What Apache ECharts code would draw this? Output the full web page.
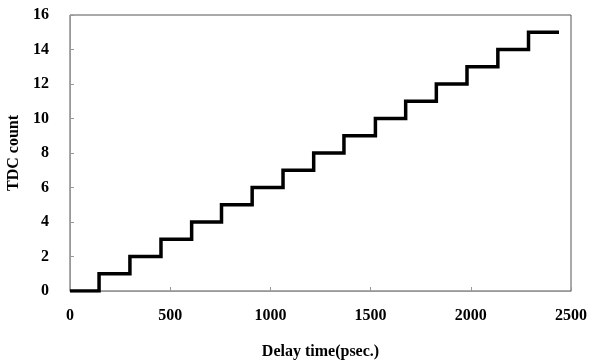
<!DOCTYPE html>
<html>
<head>
<meta charset="utf-8">
<script src="https://cdn.jsdelivr.net/npm/echarts@6/dist/echarts.min.js"></script>
<style>
  html, body { margin: 0; padding: 0; background: #fff; }
  #chart { width: 589px; height: 361px; }
</style>
</head>
<body>
<div id="chart"></div>
<script>
// delay time (psec.) where the count steps up, and the count after each step
var delayTimes = [0, 145, 299, 454, 607, 756, 909, 1063, 1216, 1367, 1524, 1675, 1828, 1981, 2135, 2288, 2440];
var tdcCounts  = [0, 1, 2, 3, 4, 5, 6, 7, 8, 9, 10, 11, 12, 13, 14, 15, 15];

var xTicks = [0, 500, 1000, 1500, 2000, 2500];
var yTicks = [0, 2, 4, 6, 8, 10, 12, 14, 16];

var labelFont = {
    fontFamily: 'Liberation Serif',
    fontWeight: 'bold',
    fontSize: 16,
    color: '#000'
};

var myChart = echarts.init(document.getElementById('chart'));

var points = [];
for (var i = 0; i < delayTimes.length; i++) {
    points.push([delayTimes[i], tdcCounts[i]]);
}

var option = {
    animation: false,
    grid: {
        left: 70,
        right: 18,
        top: 15,
        bottom: 70,
        outerBoundsMode: 'none',
        show: true,
        borderColor: '#555',
        borderWidth: 1
    },
    xAxis: {
        type: 'value',
        min: xTicks[0],
        max: xTicks[xTicks.length - 1],
        interval: 500,
        name: 'Delay time(psec.)',
        nameLocation: 'middle',
        nameGap: 53,
        nameTextStyle: labelFont,
        axisLine: { lineStyle: { color: '#999', width: 1 } },
        axisTick: { inside: true, length: 4, lineStyle: { color: '#999' } },
        axisLabel: Object.assign({ margin: 17, formatter: function (v) { return String(v); } }, labelFont),
        splitLine: { show: false }
    },
    yAxis: {
        type: 'value',
        min: yTicks[0],
        max: yTicks[yTicks.length - 1],
        interval: 2,
        name: 'TDC count',
        nameLocation: 'middle',
        nameGap: 47,
        nameTextStyle: labelFont,
        axisLine: { show: true, lineStyle: { color: '#999', width: 1 } },
        axisTick: { show: true, inside: true, length: 4, lineStyle: { color: '#999' } },
        axisLabel: Object.assign({ margin: 21 }, labelFont),
        splitLine: { show: false }
    },
    series: [{
        type: 'line',
        step: 'end',
        data: points,
        showSymbol: false,
        lineStyle: { color: '#000', width: 3.5, cap: 'butt', join: 'miter' }
    }]
};

myChart.setOption(option);
</script>
</body>
</html>
